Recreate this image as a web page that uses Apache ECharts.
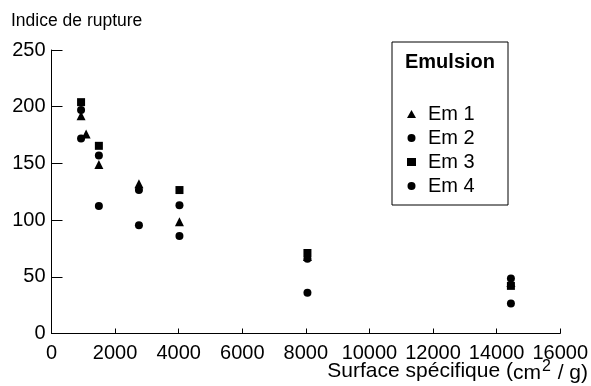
<!DOCTYPE html>
<html>
<head>
<meta charset="utf-8">
<script src="https://cdn.jsdelivr.net/npm/echarts@6/dist/echarts.min.js"></script>
<style>html,body{margin:0;padding:0;background:#fff;}#c{width:591px;height:386px;}</style>
</head>
<body>
<div id="c"></div>
<script>
const seriesNames = ['Em 1', 'Em 2', 'Em 3', 'Em 4'];
const seriesSymbols = ['triangle', 'circle', 'rect', 'circle'];
const em1 = [[930, 192], [1090, 176], [1490, 149], [2750, 132], [4025, 98.5], [8050, 68], [14450, 45]];
const em2 = [[930, 197], [1490, 157], [2750, 126.5], [4025, 113], [8050, 66], [14450, 48.5]];
const em3 = [[930, 204], [1490, 165.5], [4025, 126.5], [8050, 71], [14450, 42]];
const em4 = [[930, 172], [1490, 112.5], [2750, 95.5], [4025, 86], [8050, 36], [14450, 26.5]];
const xTicks = [0, 2000, 4000, 6000, 8000, 10000, 12000, 14000, 16000];
const yTicks = [0, 50, 100, 150, 200, 250];
const yTitle = 'Indice de rupture';
const legendTitle = 'Emulsion';

const FONT = '"Liberation Sans", Arial, sans-serif';
const FS = 20;
const allData = [em1, em2, em3, em4];
const chart = echarts.init(document.getElementById('c'), null, {renderer: 'canvas'});
chart.setOption({
  animation: false,
  backgroundColor: '#fff',
  grid: {left: 51.5, right: 26, top: 50, bottom: 52.5, containLabel: false},
  xAxis: {
    type: 'value', min: xTicks[0], max: xTicks[xTicks.length - 1], interval: 2000,
    axisLine: {lineStyle: {color: '#000', width: 1}},
    axisTick: {inside: true, length: 5, lineStyle: {color: '#000'}},
    axisLabel: {color: '#000', fontFamily: FONT, fontSize: FS, margin: 10, formatter: v => String(v)},
    splitLine: {show: false}
  },
  yAxis: {
    type: 'value', min: yTicks[0], max: yTicks[yTicks.length - 1], interval: 50,
    axisLine: {show: true, lineStyle: {color: '#000', width: 1}},
    axisTick: {show: true, inside: true, length: 11, lineStyle: {color: '#000'}},
    axisLabel: {color: '#000', fontFamily: FONT, fontSize: FS, margin: 6, formatter: v => String(v)},
    splitLine: {show: false}
  },
  legend: {
    orient: 'vertical', left: 402, top: 99,
    itemWidth: 9, itemHeight: 8, itemGap: 4,
    textStyle: {color: '#000', fontFamily: FONT, fontSize: FS, padding: [0, 0, 0, 7]},
    data: seriesNames.map((n, i) => ({name: n, icon: seriesSymbols[i]})),
    itemStyle: {color: '#000'}
  },
  graphic: [
    {type: 'rect', shape: {x: 392, y: 42, width: 116, height: 163}, style: {fill: 'none', stroke: '#000', lineWidth: 1}},
    {type: 'text', x: 450, y: 62, style: {text: legendTitle, font: 'bold 20px ' + FONT, fill: '#000', textAlign: 'center', textVerticalAlign: 'middle'}},
    {type: 'text', x: 11, y: 21, style: {text: yTitle, font: '17.5px ' + FONT, fill: '#000', textAlign: 'left', textVerticalAlign: 'middle'}},
    {type: 'text', right: 3, top: 359, style: {
      text: 'Surface spécifique ({a|cm}{s|2}{a| / g)}',
      font: '21px ' + FONT, fill: '#000',
      rich: {a: {fontSize: 21, fontFamily: FONT, verticalAlign: 'bottom'}, s: {fontSize: 16, fontFamily: FONT, verticalAlign: 'top', padding: [0, 1, 9, 1]}}
    }}
  ],
  series: seriesNames.map((n, i) => ({
    name: n, type: 'scatter', data: allData[i],
    symbol: seriesSymbols[i], symbolSize: seriesSymbols[i] === 'triangle' ? 9 : 8,
    itemStyle: {color: '#000', opacity: 1}
  }))
});
</script>
</body>
</html>
